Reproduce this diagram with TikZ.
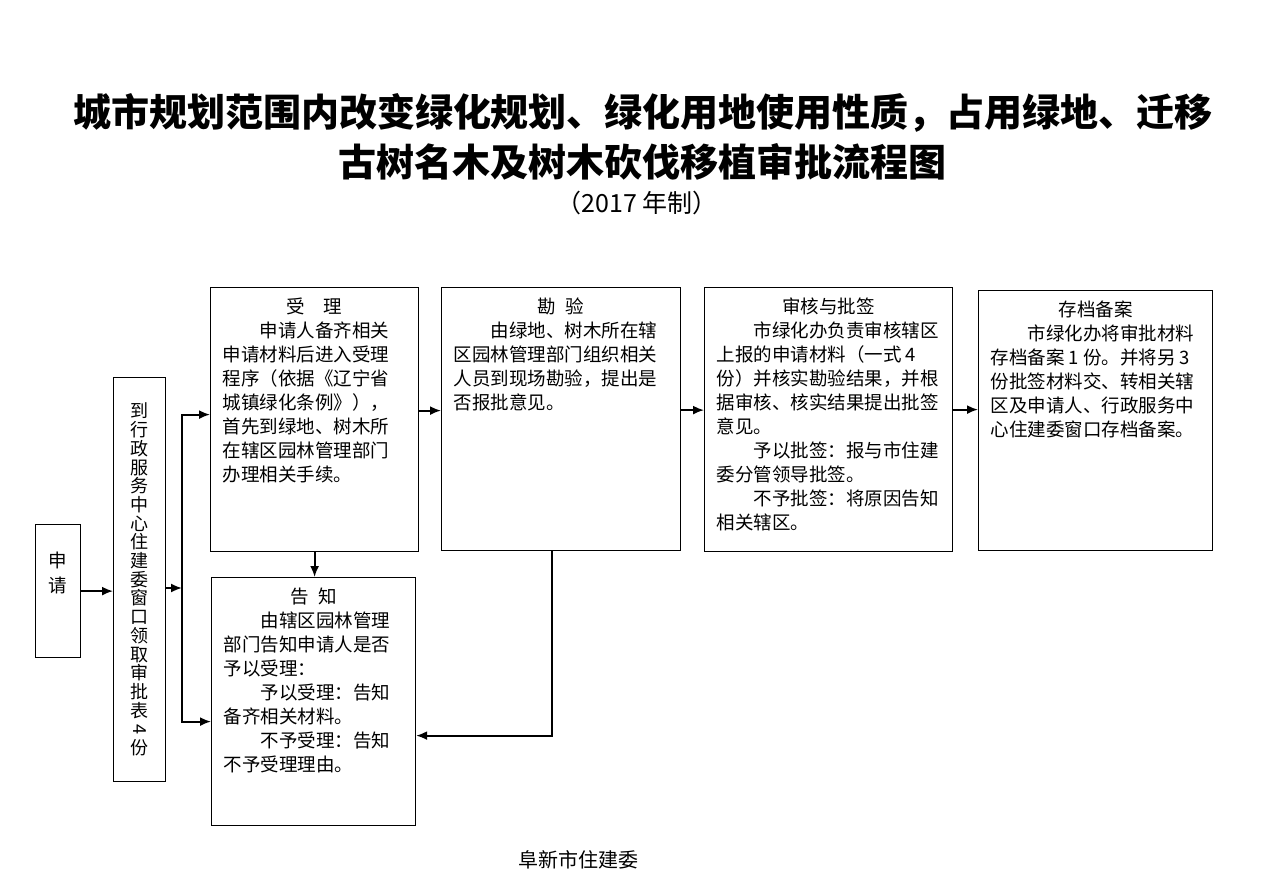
\documentclass[tikz,border=0pt]{standalone}
\usepackage{fontspec}
\newfontfamily\cjk{Noto Sans CJK SC}
\usetikzlibrary{arrows.meta}

\begin{document}
\begin{tikzpicture}[
  x=1pt, y=-1pt,
  stepbox/.style={draw=black, line width=1.2pt, anchor=north west, inner xsep=12pt, inner ysep=10pt, font=\cjk\fontsize{18.5}{24}\selectfont},
  tallbox/.style={draw=black, line width=1.2pt, anchor=north west, inner sep=0pt, align=center},
  arrow/.style={line width=1.8pt, -{Latex[length=11pt,width=9pt]}}
]
  \useasboundingbox (0,0) rectangle (1269,883);

  % 标题
  \node[font=\cjk\bfseries\fontsize{38}{40}\selectfont] (title) at (643,113) {城市规划范围内改变绿化规划、绿化用地使用性质，占用绿地、迁移};
  \node[font=\cjk\bfseries\fontsize{38}{40}\selectfont] (title2) at (642,162) {古树名木及树木砍伐移植审批流程图};
  \node[font=\cjk\fontsize{25}{27}\selectfont] (year) at (637,203) {（2017 年制）};

  % 左侧两个竖框
  \node[tallbox, minimum width=45, minimum height=133, font=\cjk\fontsize{18.5}{25}\selectfont] (shenqing) at (35,524) {申\\请\\[12pt]};
  \node[tallbox, minimum width=52, minimum height=404, font=\cjk\fontsize{18}{18.7}\selectfont] (daoxing) at (113,377)
    {到\\行\\政\\服\\务\\中\\心\\住\\建\\委\\窗\\口\\领\\取\\审\\批\\表\\ \rotatebox[origin=c]{-90}{4}\\份};

  % 受理
  \node[stepbox] (shouli) at (210,287) {\parbox[c][244pt][t]{184pt}{%
    {\centering 受\hspace{1em}理\par}
    \hspace*{2em}申请人备齐相关\\
    申请材料后进入受理\\
    程序（依据《辽宁省\\
    城镇绿化条例》），\\
    首先到绿地、树木所\\
    在辖区园林管理部门\\
    办理相关手续。}};

  % 勘验
  \node[stepbox] (kanyan) at (441,287) {\parbox[c][243pt][t]{215pt}{%
    {\centering 勘\hspace{0.5em}验\par}
    \hspace*{2em}由绿地、树木所在辖\\
    区园林管理部门组织相关\\
    人员到现场勘验，提出是\\
    否报批意见。}};

  % 审核与批签
  \node[stepbox] (shenhe) at (704,287) {\parbox[c][244pt][t]{224pt}{%
    {\centering 审核与批签\par}
    \hspace*{2em}市绿化办负责审核辖区\\
    上报的申请材料（一式 4\\
    份）并核实勘验结果，并根\\
    据审核、核实结果提出批签\\
    意见。\\
    \hspace*{2em}予以批签：报与市住建\\
    委分管领导批签。\\
    \hspace*{2em}不予批签：将原因告知\\
    相关辖区。}};

  % 存档备案
  \node[stepbox] (cundang) at (978,290) {\parbox[c][240pt][t]{210pt}{%
    {\centering 存档备案\par}
    \hspace*{2em}市绿化办将审批材料\\
    存档备案 1 份。并将另 3\\
    份批签材料交、转相关辖\\
    区及申请人、行政服务中\\
    心住建委窗口存档备案。}};

  % 告知
  \node[stepbox] (gaozhi) at (211,577) {\parbox[c][228pt][t]{180pt}{%
    {\centering 告\hspace{0.5em}知\par}
    \hspace*{2em}由辖区园林管理\\
    部门告知申请人是否\\
    予以受理：\\
    \hspace*{2em}予以受理：告知\\
    备齐相关材料。\\
    \hspace*{2em}不予受理：告知\\
    不予受理理由。}};

  % 落款
  \node[font=\cjk\fontsize{20}{22}\selectfont] (footer) at (578,860) {阜新市住建委};

  % 连线
  \coordinate (fork) at (182,588);
  \coordinate (s1) at ([yshift=5pt]shouli.west);
  \coordinate (g1) at ([yshift=-20pt]gaozhi.west);
  \coordinate (g2) at ([yshift=-34pt]gaozhi.east);
  \coordinate (a1) at ([yshift=9pt]shouli.east);
  \coordinate (a2) at ([yshift=9pt]kanyan.east);
  \coordinate (a3) at ([yshift=10pt]shenhe.east);

  \draw[arrow] (shenqing.east) -- (shenqing.east -| daoxing.west);
  \draw[arrow] (daoxing.east |- fork) -- (fork);
  \draw[arrow] (fork) |- (s1);
  \draw[arrow] (fork) |- (g1);
  \draw[arrow] (a1) -- (a1 -| kanyan.west);
  \draw[arrow] (a2) -- (a2 -| shenhe.west);
  \draw[arrow] (a3) -- (a3 -| cundang.west);
  \draw[arrow] (shouli.south) -- (shouli.south |- gaozhi.north);
  \draw[arrow] ([xshift=-9pt]kanyan.south) |- (g2);
\end{tikzpicture}
\end{document}
